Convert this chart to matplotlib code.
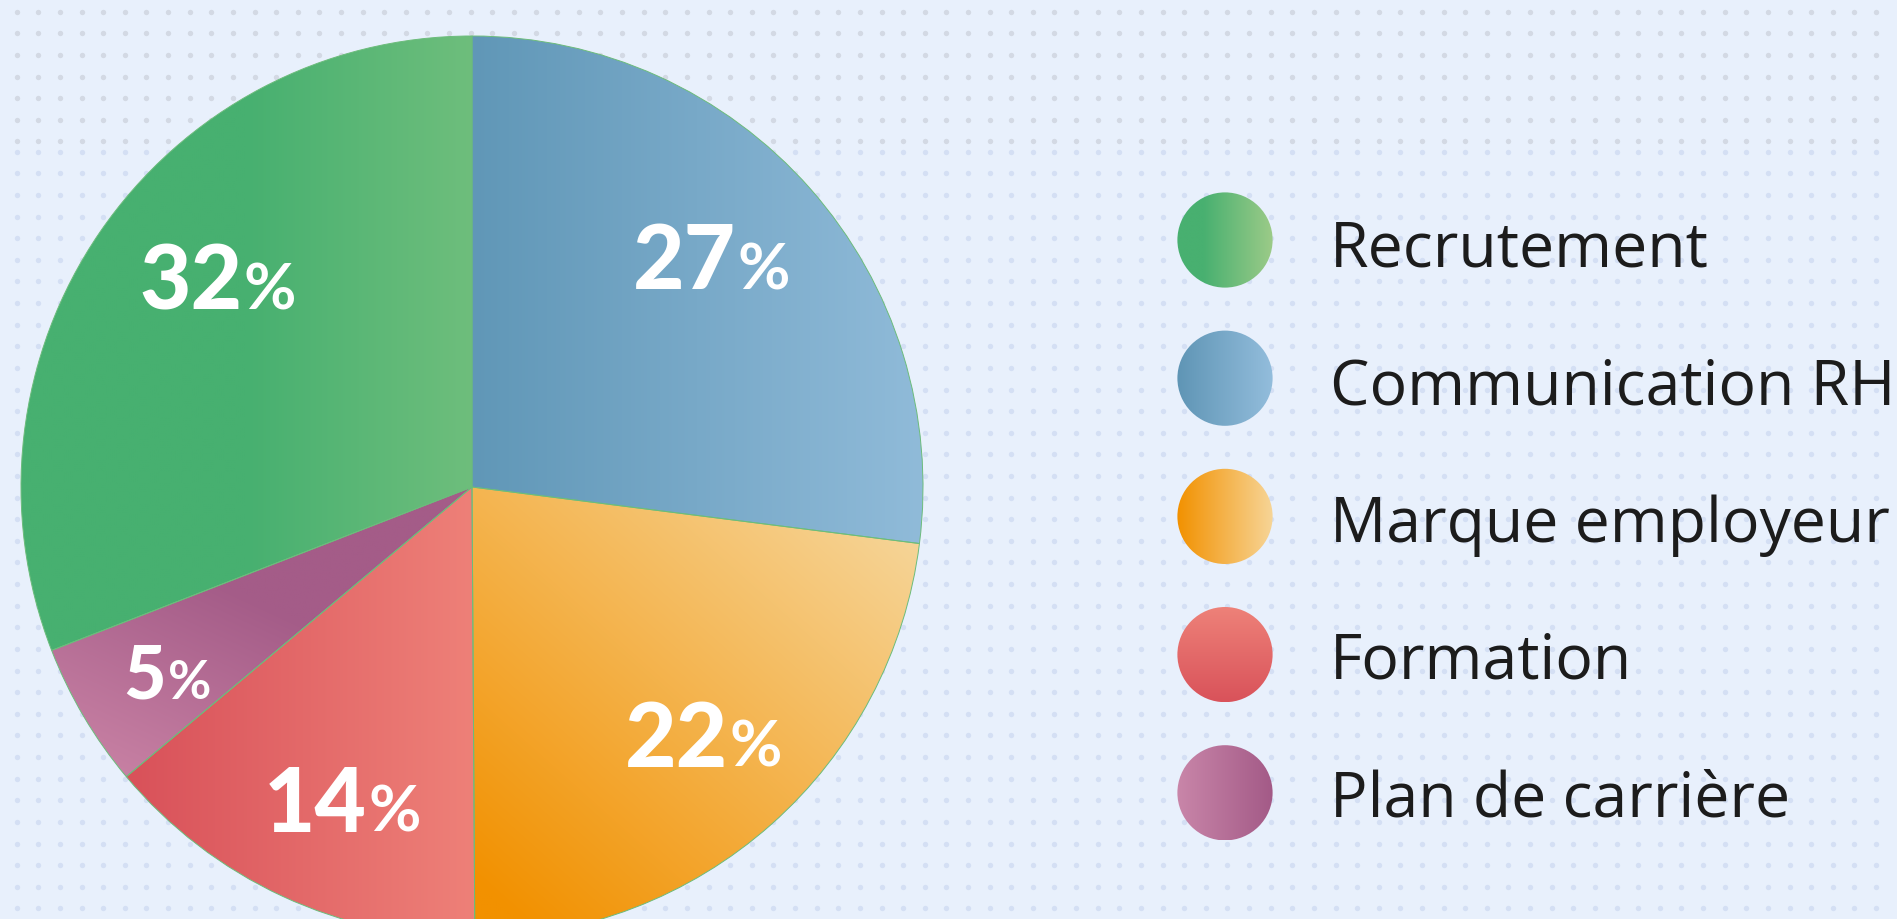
import numpy as np
import matplotlib
matplotlib.use('Agg')
import matplotlib.pyplot as plt
from matplotlib.colors import to_rgb
from matplotlib.patches import Circle

# données
labels = ['Recrutement', 'Communication RH', 'Marque employeur', 'Formation', 'Plan de carrière']
values = [32, 27, 22, 14, 5]              # pourcentages affichés
shares = [30.9, 27.0, 22.9, 14.0, 5.2]    # taille des parts
# ordre des parts dans le camembert (sens horaire depuis midi)
pie_order = [1, 2, 3, 4, 0]

# dégradés des parts, en coordonnées du camembert (rayon 1)
slice_grad = {
    'Recrutement': ((-0.5, 0), (0.0, 0), '#47b070', '#6ebe7c'),
    'Communication RH': ((0.0, 0), (1.0, 0), '#6097b7', '#90bbd9'),
    'Marque employeur': ((0.15, -1.0), (0.95, -0.1), '#f29100', '#f6d496'),
    'Formation': ((-0.75, 0), (0.0, 0), '#d9525a', '#ee8078'),
    'Plan de carrière': ((-0.55, -0.22), (-0.75, -0.65), '#a45c88', '#c780a3'),
}
# dégradés des pastilles de la légende (en fraction du rayon, y vers le bas)
legend_grad = {
    'Recrutement': ((-0.45, 0), (1, 0), '#48b070', '#9ccb88'),
    'Communication RH': ((-1, 0), (1, 0), '#5f95b5', '#93bddc'),
    'Marque employeur': ((-1, 0), (1, 0), '#f29100', '#f7d597'),
    'Formation': ((0, -1), (0, 1), '#ee8279', '#d9525a'),
    'Plan de carrière': ((-1, 0), (1, 0), '#c986a9', '#a35a87'),
}
# petits décalages des étiquettes (pixels, x vers la droite, y vers le bas)
label_nudge = {
    'Recrutement': (24, -19),
    'Communication RH': (-15, -7),
    'Marque employeur': (6, -6),
    'Formation': (12, 5),
    'Plan de carrière': (1, 3),
}

W, H = 1897, 920
BG = '#e8f0fc'


def gradient(x0, x1, y0, y1, p0, p1, c0, c1, n=500):
    X, Y = np.meshgrid(np.linspace(x0, x1, n), np.linspace(y0, y1, n))
    d = np.subtract(p1, p0)
    t = ((X - p0[0]) * d[0] + (Y - p0[1]) * d[1]) / (d @ d)
    t = np.clip(t, 0, 1)[..., None]
    return (1 - t) * np.array(to_rgb(c0)) + t * np.array(to_rgb(c1))


fig = plt.figure(figsize=(W / 100, H / 100), dpi=100, facecolor=BG)

# fond à pois + légende, en pixels
bg = fig.add_axes([0, 0, 1, 1], zorder=0)
bg.set_axis_off()

xs = np.arange(16.7, W, 21.62)
for y_start, y_stop, col in [(12.7, 145, '#d3d9e4'), (152.7, H, '#d4dff4')]:
    ys = np.arange(y_start, y_stop, 21.62)
    X, Y = np.meshgrid(xs, ys)
    bg.scatter(X.ravel(), Y.ravel(), s=15, color=col, linewidths=0, zorder=0)

cx_leg, r_leg = 1225, 47.6
for i, lab in enumerate(labels):
    y = 241 + i * 138.2
    p0, p1, c0, c1 = legend_grad[lab]
    circ = Circle((cx_leg, y), r_leg, facecolor='none', edgecolor='none', zorder=2)
    bg.add_patch(circ)
    img = gradient(cx_leg - r_leg, cx_leg + r_leg, y - r_leg, y + r_leg,
                   (cx_leg + p0[0] * r_leg, y + p0[1] * r_leg),
                   (cx_leg + p1[0] * r_leg, y + p1[1] * r_leg), c0, c1, n=200)
    im = bg.imshow(img, extent=(cx_leg - r_leg, cx_leg + r_leg, y - r_leg, y + r_leg),
                   origin='lower', zorder=1, aspect='auto', interpolation='bilinear')
    im.set_clip_path(circ)
    bg.text(1330, 267 + i * 137.3, lab, fontsize=45, family=['Open Sans', 'DejaVu Sans'],
            color='#1c1c1c', va='baseline', ha='left', zorder=3)

bg.set_xlim(0, W)
bg.set_ylim(H, 0)

# camembert
R, cx, cy = 451, 472, 488
ax = fig.add_axes([(cx - R) / W, (H - cy - R) / H, 2 * R / W, 2 * R / H], zorder=1)
sizes = [shares[k] for k in pie_order]
vals = [values[k] for k in pie_order]
names = [labels[k] for k in pie_order]
wedges, _ = ax.pie(sizes, startangle=90, counterclock=False, radius=1,
                   wedgeprops=dict(linewidth=0.7, edgecolor='#6cbc7b'))

for w, name in zip(wedges, names):
    p0, p1, c0, c1 = slice_grad[name]
    w.set_facecolor('none')
    w.set_zorder(2)
    im = ax.imshow(gradient(-1, 1, -1, 1, p0, p1, c0, c1), extent=(-1, 1, -1, 1),
                   origin='lower', zorder=1, interpolation='bilinear')
    im.set_clip_path(w)

ax.set_xlim(-1, 1)
ax.set_ylim(-1, 1)
ax.set_aspect('equal')
ax.set_axis_off()

# étiquettes en pourcentage
lab_font = ['Lato', 'DejaVu Sans']
texts = []
for w, v, name in zip(wedges, vals, names):
    mid = np.deg2rad((w.theta1 + w.theta2) / 2)
    r = 0.79 if v < 10 else 0.75
    size = 53 if v < 10 else 64
    nx, ny = label_nudge[name]
    tn = ax.text(0, 0, str(v), fontsize=size, family=lab_font, fontweight='black',
                 color='white', ha='right', va='baseline', zorder=3)
    tp = ax.text(0, 0, '%', fontsize=size * 0.72, family=lab_font, fontweight='bold',
                 color='white', ha='left', va='baseline', zorder=3)
    texts.append((tn, tp, r * np.cos(mid) + nx / R, r * np.sin(mid) - ny / R, size))

fig.canvas.draw()
rend = fig.canvas.get_renderer()
for tn, tp, x, y, size in texts:
    wn = tn.get_window_extent(rend).width / R
    wp = tp.get_window_extent(rend).width / R
    cap = size / 72 * 100 * 0.7165 / R
    split = x + (wn - wp) / 2
    base = y - cap / 2
    tn.set_position((split, base))
    tp.set_position((split + 0.004, base))

fig.savefig('out.png', dpi=100, facecolor=BG)
